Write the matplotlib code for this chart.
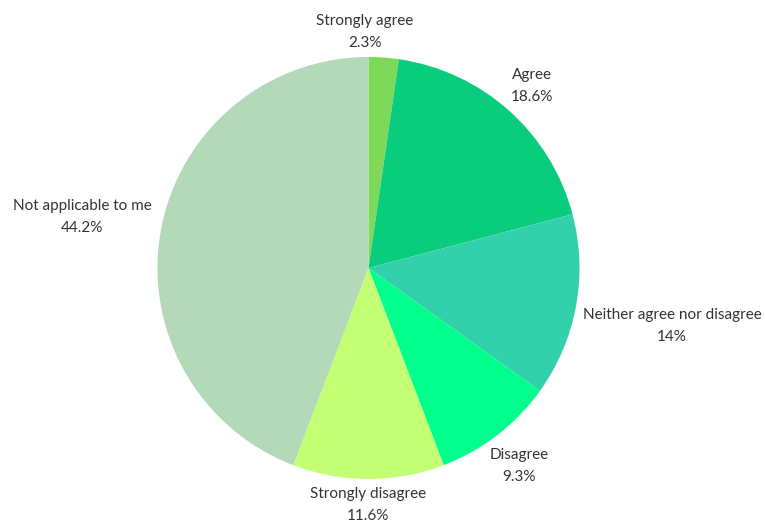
import matplotlib
matplotlib.use("Agg")
import matplotlib.pyplot as plt

labels = ["Strongly agree", "Agree", "Neither agree nor disagree", "Disagree",
          "Strongly disagree", "Not applicable to me"]
values = [2.3, 18.6, 14, 9.3, 11.6, 44.2]
pct_text = ["2.3%", "18.6%", "14%", "9.3%", "11.6%", "44.2%"]
colors = ["#7dd957", "#0acc7d", "#33d1ab", "#00ff8c", "#c2ff73", "#b3d9b9"]

# label centres in pixel coords (from top-left)
label_px = [(365, 32), (532, 86), (672, 326), (519, 466), (368, 505), (82, 217)]

W, H = 765, 522
fig = plt.figure(figsize=(W / 100, H / 100), dpi=100)
ax = fig.add_axes([0, 0, 1, 1])

ax.pie(values, colors=colors, startangle=90, counterclock=False,
       center=(368.5, H - 268), radius=211, frame=True,
       wedgeprops=dict(linewidth=0))
ax.set_xlim(0, W)
ax.set_ylim(0, H)
ax.set_aspect("equal")
ax.axis("off")

for lab, pct, (px, py) in zip(labels, pct_text, label_px):
    ax.text(px, H - py, f"{lab}\n{pct}", ha="center", va="center",
            fontsize=11, family="Lato", color="#333333", linespacing=1.75)

fig.savefig("out.png", dpi=100)
